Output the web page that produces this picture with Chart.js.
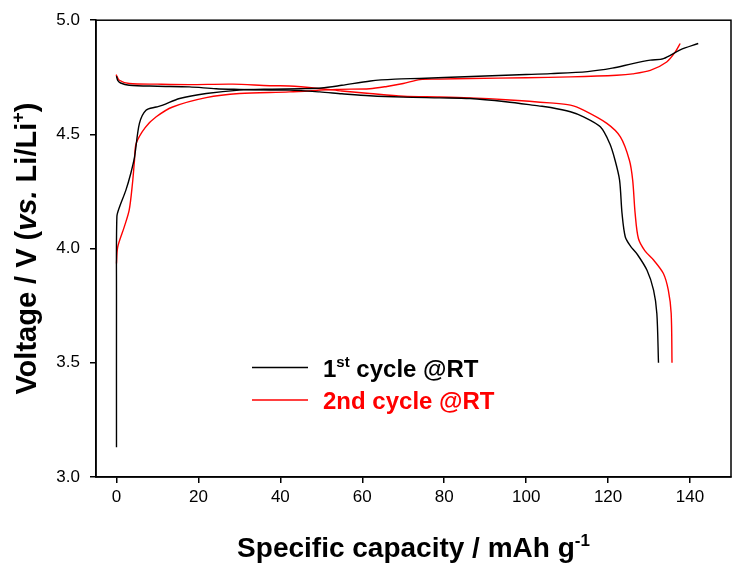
<!DOCTYPE html>
<html>
<head>
<meta charset="utf-8">
<script src="https://cdn.jsdelivr.net/npm/chart.js@4.4.1/dist/chart.umd.min.js"></script>
<style>
  html, body { margin: 0; padding: 0; background: #fff; }
</style>
</head>
<body>
<canvas id="capacityChart" width="748" height="573"></canvas>
<script>
// 1st cycle @RT
const charge1X = [0, 0, 0.1, 0.7, 2.3, 3.5, 4.4, 5.6, 7.2, 9.7, 11.3, 15.4, 21.9, 30, 38, 45, 50, 55, 62, 68, 74, 80, 90, 100, 106, 115, 121, 126, 130.3, 133.5, 137.6, 142];
const charge1Y = [3.13, 3.8, 4.14, 4.18, 4.256, 4.33, 4.40, 4.548, 4.606, 4.62, 4.628, 4.657, 4.679, 4.694, 4.698, 4.70, 4.703, 4.715, 4.734, 4.742, 4.745, 4.749, 4.756, 4.762, 4.766, 4.775, 4.79, 4.81, 4.825, 4.832, 4.87, 4.898];
const discharge1X = [0, 0.3, 1, 3.1, 10, 17.8, 24.3, 30, 37.4, 42.2, 49.6, 55, 61.8, 70, 78.9, 86.3, 95, 103, 106, 110.8, 114, 118.1, 120.4, 121.7, 122.8, 123.4, 124.2, 125.5, 127, 129.5, 131.1, 131.9, 132.3];
const discharge1Y = [4.755, 4.737, 4.725, 4.715, 4.711, 4.708, 4.70, 4.697, 4.694, 4.694, 4.686, 4.678, 4.669, 4.663, 4.66, 4.657, 4.643, 4.625, 4.618, 4.599, 4.577, 4.533, 4.46, 4.387, 4.30, 4.154, 4.051, 4.01, 3.978, 3.905, 3.818, 3.716, 3.50];

// 2nd cycle @RT
const charge2X = [0, 0.3, 1.9, 3.1, 3.9, 4.4, 4.8, 7, 9.7, 13.7, 21.9, 30, 42.2, 53.7, 61.8, 66, 70, 74.1, 78.9, 86.3, 100, 110.8, 122.1, 126, 130.3, 134.3, 136.4, 137.6];
const charge2Y = [3.935, 4.007, 4.095, 4.168, 4.285, 4.387, 4.46, 4.53, 4.577, 4.62, 4.661, 4.679, 4.686, 4.697, 4.70, 4.71, 4.723, 4.74, 4.742, 4.745, 4.748, 4.752, 4.759, 4.765, 4.78, 4.817, 4.861, 4.898];
const discharge2X = [-0.1, 0.7, 3.1, 10, 17.8, 28.4, 37.4, 42.2, 50, 55, 61.8, 70, 78.9, 86.3, 95, 105.8, 110.8, 114, 119.7, 123, 125.2, 126, 126.6, 127.4, 129, 131.1, 133.5, 134.7, 135.4, 135.6];
const discharge2Y = [4.762, 4.737, 4.723, 4.72, 4.718, 4.72, 4.713, 4.712, 4.70, 4.69, 4.679, 4.667, 4.664, 4.66, 4.652, 4.638, 4.628, 4.606, 4.548, 4.489, 4.387, 4.30, 4.154, 4.044, 3.99, 3.95, 3.891, 3.818, 3.716, 3.50];

const xTicks = [0, 20, 40, 60, 80, 100, 120, 140];
const yTicks = [3.0, 3.5, 4.0, 4.5, 5.0];

const toPoints = (xs, ys) => xs.map((x, i) => ({ x: x, y: ys[i] }));

function line(xs, ys, color) {
  return {
    data: toPoints(xs, ys),
    borderColor: color,
    borderWidth: 1.4,
    pointRadius: 0,
    showLine: true,
    tension: 0.3,
    fill: false
  };
}

// draw a row of text pieces (for superscripts / italics)
function drawRuns(ctx, runs, x, y, align) {
  let total = 0;
  runs.forEach(r => { ctx.font = r.font; total += ctx.measureText(r.text).width; });
  let cx = align === 'center' ? x - total / 2 : x;
  runs.forEach(r => {
    ctx.font = r.font;
    ctx.fillText(r.text, cx, y + (r.dy || 0));
    cx += ctx.measureText(r.text).width;
  });
}

const FONT = '"Liberation Sans", Arial, sans-serif';

const decorations = {
  id: 'decorations',
  afterDraw(chart) {
    const ctx = chart.ctx;
    const a = chart.chartArea;
    ctx.save();
    // frame
    ctx.strokeStyle = '#000';
    ctx.lineWidth = 1.5;
    ctx.strokeRect(a.left, a.top, a.right - a.left, a.bottom - a.top);

    ctx.textBaseline = 'alphabetic';
    ctx.textAlign = 'left';
    ctx.fillStyle = '#000';
    // x title
    drawRuns(ctx, [
      { text: 'Specific capacity / mAh g', font: 'bold 28px ' + FONT },
      { text: '-1', font: 'bold 17px ' + FONT, dy: -11 }
    ], (a.left + a.right) / 2, 557, 'center');

    // y title
    ctx.save();
    ctx.translate(36, (a.top + a.bottom) / 2);
    ctx.rotate(-Math.PI / 2);
    drawRuns(ctx, [
      { text: 'Voltage / V (', font: 'bold 29px ' + FONT },
      { text: 'vs.', font: 'italic bold 29px ' + FONT },
      { text: ' Li/Li', font: 'bold 29px ' + FONT },
      { text: '+', font: 'bold 18px ' + FONT, dy: -12 },
      { text: ')', font: 'bold 29px ' + FONT }
    ], 0, 0, 'center');
    ctx.restore();

    // legend
    ctx.lineWidth = 1.4;
    ctx.strokeStyle = '#000';
    ctx.beginPath(); ctx.moveTo(252, 367.5); ctx.lineTo(308, 367.5); ctx.stroke();
    ctx.strokeStyle = '#ff0000';
    ctx.beginPath(); ctx.moveTo(252, 400); ctx.lineTo(308, 400); ctx.stroke();

    ctx.fillStyle = '#000';
    drawRuns(ctx, [
      { text: '1', font: 'bold 24px ' + FONT },
      { text: 'st', font: 'bold 15px ' + FONT, dy: -10 },
      { text: ' cycle @RT', font: 'bold 24px ' + FONT }
    ], 323, 377, 'left');
    ctx.fillStyle = '#ff0000';
    drawRuns(ctx, [
      { text: '2nd cycle @RT', font: 'bold 24px ' + FONT }
    ], 323, 409, 'left');
    ctx.restore();
  }
};

new Chart(document.getElementById('capacityChart'), {
  type: 'scatter',
  data: {
    datasets: [
      line(charge1X, charge1Y, '#000000'),
      line(discharge1X, discharge1Y, '#000000'),
      line(charge2X, charge2Y, '#ff0000'),
      line(discharge2X, discharge2Y, '#ff0000')
    ]
  },
  options: {
    responsive: false,
    animation: false,
    layout: { padding: { top: 20, right: 17, left: 0, bottom: 0 } },
    plugins: {
      legend: { display: false },
      tooltip: { enabled: false }
    },
    scales: {
      x: {
        type: 'linear',
        min: -5,
        max: 150,
        afterFit: s => { s.height = 96; },
        afterBuildTicks: s => { s.ticks = xTicks.map(v => ({ value: v })); },
        border: { display: true, color: '#000', width: 1.5 },
        grid: { drawOnChartArea: false, drawTicks: true, tickLength: 6, color: '#000', lineWidth: 1.5 },
        ticks: {
          color: '#000',
          padding: 4,
          maxRotation: 0,
          font: { family: FONT, size: 17 }
        }
      },
      y: {
        type: 'linear',
        min: 3.0,
        max: 5.0,
        afterFit: s => { s.width = 96; },
        afterBuildTicks: s => { s.ticks = yTicks.map(v => ({ value: v })); },
        border: { display: true, color: '#000', width: 1.5 },
        grid: { drawOnChartArea: false, drawTicks: true, tickLength: 6, color: '#000', lineWidth: 1.5 },
        ticks: {
          color: '#000',
          padding: 10,
          font: { family: FONT, size: 17 },
          callback: v => Number(v).toFixed(1)
        }
      }
    }
  },
  plugins: [decorations]
});
</script>
</body>
</html>
